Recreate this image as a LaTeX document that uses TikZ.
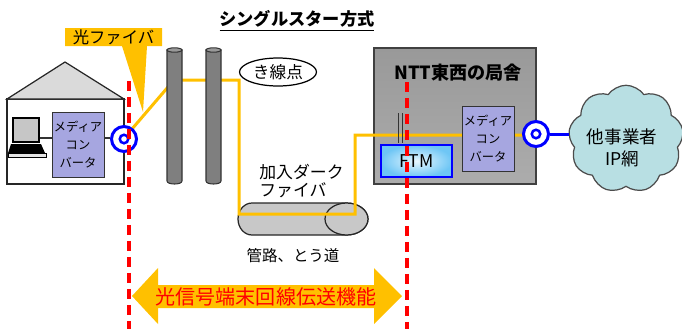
\documentclass[tikz,border=0pt]{standalone}
\usepackage{fontspec}
\setmainfont{Noto Sans CJK JP}
\usetikzlibrary{shapes.symbols,shapes.geometric}

\definecolor{fiber}{HTML}{FFC000}
\definecolor{cut}{HTML}{FF0000}
\definecolor{ring}{HTML}{0000FF}
\definecolor{mc}{HTML}{A6A6E0}
\definecolor{pole}{HTML}{7F7F7F}
\definecolor{pipe}{HTML}{C8C8C8}
\definecolor{roof}{HTML}{DADADA}
\definecolor{cloudfill}{HTML}{B8DFE3}
\definecolor{ftmin}{HTML}{E8F7FF}
\definecolor{ftmout}{HTML}{6EC6F5}

\newcommand\jsize[2]{\fontsize{#1}{#2}\selectfont}

\begin{document}
\begin{tikzpicture}[x=0.02cm,y=-0.02cm,
  fiberline/.style={draw=fiber, line width=0.06cm},
  cutline/.style={draw=cut, line width=0.075cm, dash pattern=on 0.2cm off 0.12cm},
  mcbox/.style={draw=black!80, fill=mc, line width=0.5pt, minimum width=1.04cm,
    minimum height=1.3cm, align=center, inner sep=0pt, font=\jsize{7}{10}},
  ringouter/.style={circle, draw=ring, line width=0.06cm, fill=white,
    minimum size=0.5cm, inner sep=0pt},
  ringinner/.style={circle, draw=ring, line width=0.05cm, fill=white,
    minimum size=0.17cm, inner sep=0pt},
  polebody/.style={fill=pole, draw=black!80, line width=0.6pt},
  label/.style={inner sep=0pt, align=center},
  wire/.style={draw=black!80, line width=0.6pt}
]
\useasboundingbox (0,0) rectangle (682,329);

% title
\node[label, font=\jsize{9.8}{12}\bfseries] (title) at (297,21)
  {\underline{シングルスター方式}};

% house with roof
\draw[fill=white, draw=black!85, line width=0.7pt] (7,99) rectangle (124,184);
\filldraw[fill=roof, draw=black!85, line width=0.7pt] (7,99) -- (65,62) -- (124,99) -- cycle;

% laptop
\filldraw[fill=gray!45, draw=black, line width=1.2pt] (13,118) rectangle (39,142);
\fill[black] (11,144) -- (41,144) -- (45,153) -- (8,153) -- cycle;
\draw[fill=gray!20, draw=black, line width=0.4pt] (8,153) rectangle (46,157);
\coordinate (pc) at (40,138);

% media converter in the house
\node[mcbox] (mc1) at (78,144.5) {メディア\\コン\\バータ};

% NTT building
\shade[top color=gray!80, middle color=white, bottom color=gray!65] (374,48) rectangle (536,184);
\draw[draw=black!75, line width=0.9pt] (374,48) rectangle (536,184);
\node[label, font=\jsize{10.3}{12}\bfseries] (ntt) at (458,73) {NTT東西の局舎};

% underground duct
\filldraw[fill=pipe, draw=black!85, line width=0.7pt]
  (252,203) arc[start angle=270, end angle=90, x radius=14, y radius=16]
  -- (346.5,235) arc[start angle=90, end angle=-90, x radius=21.5, y radius=16] -- cycle;
\draw[fill=pipe, draw=black!85, line width=0.7pt] (346.5,219) ellipse [x radius=21.5, y radius=16];

% optical fibre route
\draw[fiberline] (126,136) -- (174,80) -- (239,80) -- (239,214) -- (355,214) -- (355,135) -- (530,135);

% utility poles
\foreach \px in {174.5, 213.5} {
  \filldraw[polebody] (\px-7.5,50) -- (\px-7.5,181)
    .. controls (\px-7.5,185) and (\px+7.5,185) .. (\px+7.5,181) -- (\px+7.5,50) -- cycle;
  \filldraw[fill=pole!80!white, draw=black!80, line width=0.6pt] (\px,50) ellipse [x radius=7.5, y radius=2.2];
}

% media converter in the building (covers the fibre)
\node[mcbox] (mc2) at (488,138.5) {メディア\\コン\\バータ};

% termination module
\shade[inner color=ftmin, outer color=ftmout] (381,145) rectangle (452,177);
\draw[draw=ring, line width=0.7pt] (381,145) rectangle (452,177);
\node[label, font=\jsize{10}{12}] (ftm) at (416.5,161) {FTM};

% double stroke at the termination point
\draw[wire, line width=0.5pt] (398,113) -- (398,143);
\draw[wire, line width=0.5pt] (402,113) -- (402,143);

% connection points
\node[ringouter] (j1) at (124,139) {};
\node[ringinner] (j1i) at (124,139) {};
\draw[wire] (pc) -- (mc1.west |- pc);
\draw[wire] (mc1.east |- pc) -- (j1.west |- pc);

% other carrier network
\node[cloud, cloud puffs=9, cloud puff arc=110, aspect=1.05, fill=cloudfill,
  draw=gray!60!black, line width=0.7pt, minimum width=2.3cm, minimum height=2.15cm] (net) at (626,139) {};
\node[label, font=\jsize{10}{12.5}] (netlbl) at (622,148) {他事業者\\IP網};

\node[ringouter] (j2) at (536,134) {};
\node[ringinner] (j2i) at (536,134) {};
\draw[draw=ring, line width=0.06cm] (j2.east) -- (net.west |- j2);

% labels along the route
\node[ellipse, draw=black, fill=white, line width=0.7pt, minimum width=1.54cm,
  minimum height=0.56cm, inner sep=0pt, font=\jsize{9.5}{11}] (kisen) at (278,72) {き線点};
\node[label, anchor=west, align=left, font=\jsize{9.6}{10.5}] (dark) at (259,181) {加入ダーク\\ファイバ};
\node[label, font=\jsize{8.8}{10}] (duct) at (293,256) {管路、とう道};

% callout for the fibre
\fill[fiber] (65,28) -- (162,28) -- (162,46) -- (147,46) -- (143,112) -- (122,46) -- (65,46) -- cycle;
\node[label, font=\jsize{9.3}{11}] (fibrelbl) at (113.5,37) {光ファイバ};

% demarcation lines
\coordinate (cutA1) at (129,81);
\coordinate (cutA2) at (129,329);
\coordinate (cutB1) at (407,82);
\coordinate (cutB2) at (407,329);
\draw[cutline] (cutA1) -- (cutA2);
\draw[cutline] (cutB1) -- (cutB2);

% span of the transmission function
\fill[fiber] (132,296) -- (158,268) -- (158,285) -- (374,285) -- (374,268) -- (402,296)
  -- (374,324) -- (374,308) -- (158,308) -- (158,324) -- cycle;
\node[label, text=cut, font=\jsize{11.4}{13}] (span) at (266,297) {光信号端末回線伝送機能};
\end{tikzpicture}
\end{document}
